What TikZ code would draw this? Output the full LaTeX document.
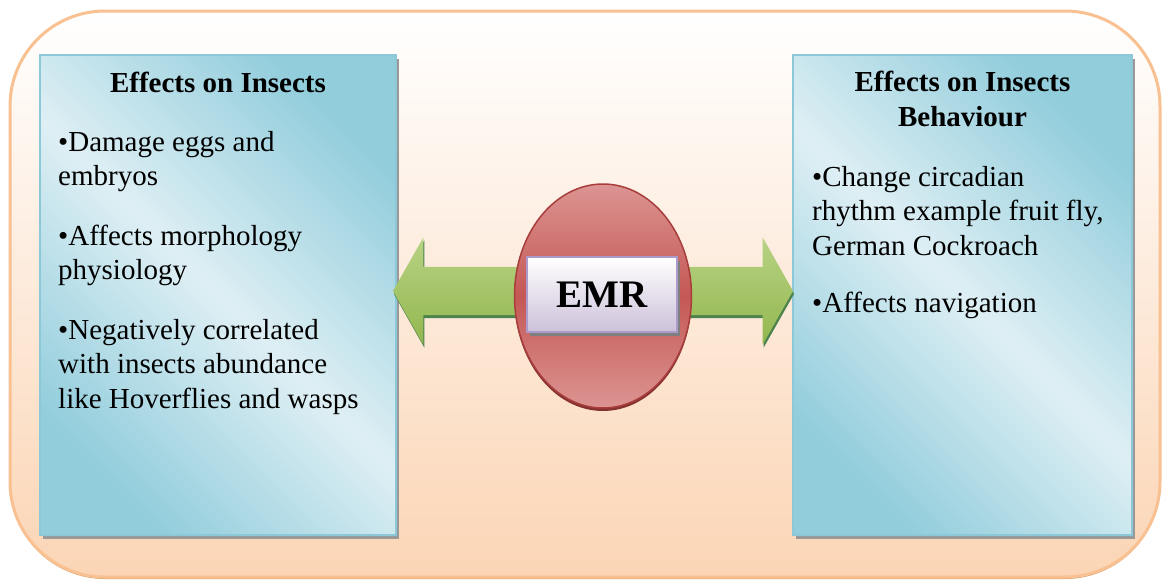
\documentclass[tikz,border=0pt]{standalone}
\usepackage{fontspec}
\setmainfont{Liberation Serif}
\usepackage{tikz}
\usetikzlibrary{shapes.geometric,shapes.arrows,shadows,positioning}

\definecolor{peach}{RGB}{251,213,181}
\definecolor{peachline}{RGB}{249,192,146}
\definecolor{aqualight}{RGB}{222,239,244}
\definecolor{aquadark}{RGB}{146,205,220}
\definecolor{aquaedge}{RGB}{140,200,216}
\definecolor{redmid}{RGB}{196,88,85}
\definecolor{redlight}{RGB}{220,148,146}
\definecolor{rededge}{RGB}{168,62,60}
\definecolor{lavender}{RGB}{204,193,218}
\definecolor{lavedge}{RGB}{172,154,202}
\definecolor{greenlight}{RGB}{184,210,132}
\definecolor{greendark}{RGB}{146,183,78}

\begin{document}
\begin{tikzpicture}[x=1pt,y=-1pt,
    infobox/.style={draw=aquaedge, line width=1.5pt, top color=aquadark, bottom color=aquadark,
        middle color=aqualight, shading angle=-45, minimum height=480pt,
        drop shadow={shadow xshift=3pt, shadow yshift=-4pt, fill=black!40, opacity=1}},
    headtext/.style={font=\bfseries\fontsize{29}{35}\selectfont, align=center, inner sep=0pt},
    bodytext/.style={font=\fontsize{29}{34.5}\selectfont, align=left, inner sep=0pt, anchor=north west}]
        \fill[white] (0,0) rectangle (1163,584);
        \useasboundingbox (0,0) rectangle (1163,584);

        % background panel
        \node[rounded corners=95pt, draw=peachline, line width=3pt, top color=white, bottom color=peach,
            minimum width=1150pt, minimum height=566pt,
            drop shadow={shadow xshift=0pt, shadow yshift=-2pt, fill=brown!60!peach, opacity=1}] (panel) at (585,294) {};

        % the two text boxes
        \node[infobox, minimum width=356pt] (insects) at (218,295) {};
        \node[infobox, minimum width=339pt] (behaviour) at (962.5,295) {};

        \node[headtext, below=18pt of insects.north] (insectshead) {Effects on Insects};
        \node[headtext, below=17pt of behaviour.north] (behaviourhead) {Effects on Insects\\Behaviour};

        \node[bodytext] (insectsbody) at (58,131)
            {•Damage eggs and\\embryos\\[25pt]
             •Affects morphology\\physiology\\[25pt]
             •Negatively correlated\\with insects abundance\\like Hoverflies and wasps};
        \node[bodytext] (behaviourbody) at (812,166)
            {•Change circadian\\rhythm example fruit fly,\\German Cockroach\\[23pt]
             •Affects navigation};

        % arrow through the centre
        \node[double arrow, double arrow tip angle=121, double arrow head extend=29.5pt,
            inner sep=24pt, minimum height=400pt, top color=greenlight, bottom color=greendark,
            drop shadow={shadow xshift=1pt, shadow yshift=-3pt, fill=green!30!black!70, opacity=1}] (emrarrow) at (593,291) {};

        \node[ellipse, minimum width=177pt, minimum height=224pt, draw=rededge, line width=1.5pt,
            top color=redlight, bottom color=redlight, middle color=redmid,
            drop shadow={shadow xshift=0pt, shadow yshift=-3pt, fill=rededge!80!black, opacity=1}] (emrdisc) at (603,296) {};

        \node[draw=lavedge, line width=2pt, top color=white, bottom color=lavender,
            minimum width=150pt, minimum height=75pt, font=\bfseries\fontsize{39}{39}\selectfont,
            drop shadow={shadow xshift=3pt, shadow yshift=-4pt, fill=black!50, opacity=1}] (emrlabel) at (602,294.5) {EMR};
    \end{tikzpicture}
\end{document}
